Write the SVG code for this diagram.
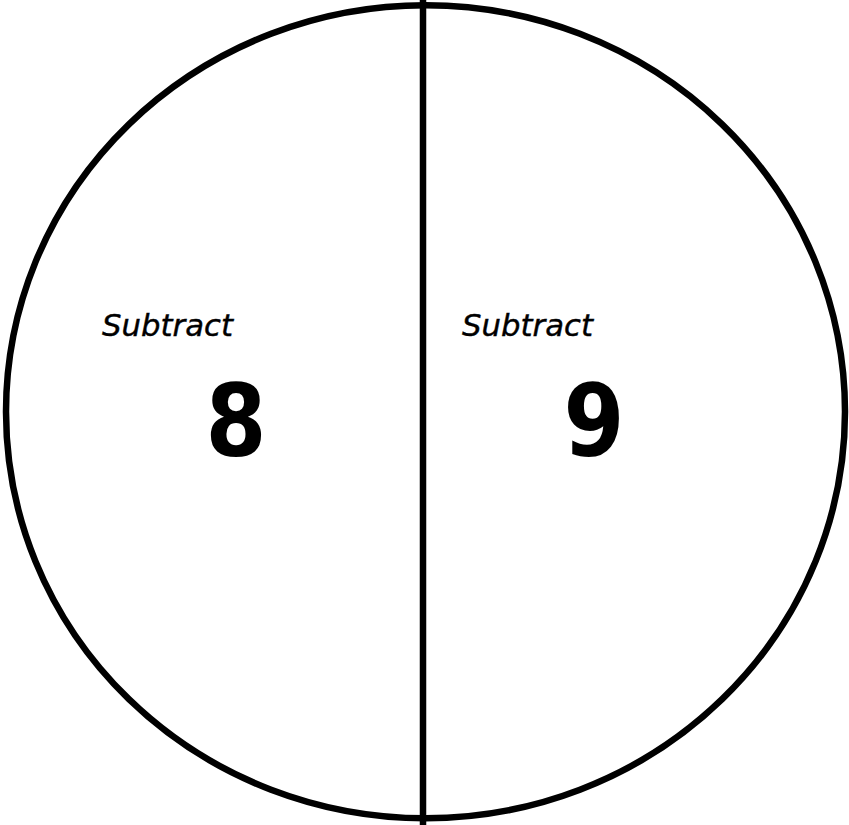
<svg xmlns="http://www.w3.org/2000/svg" width="849" height="825" viewBox="0 0 849 825">
  <style>
    .shape { fill: none; stroke: #000; stroke-width: 6.5; }
    .label { font-family: "DejaVu Sans", "Liberation Sans", sans-serif; font-style: italic; font-size: 30px; fill: #000; stroke: #000; stroke-width: 0.4; }
    .num { font-family: "DejaVu Sans", "Liberation Sans", sans-serif; font-weight: bold; font-size: 100px; fill: #000; text-anchor: middle; }
  </style>
  <rect width="849" height="825" fill="#fff"/>
  <g id="connectors">
    <ellipse class="shape" cx="425.5" cy="411.75" rx="419.5" ry="406.5"/>
    <line class="shape" x1="423" y1="0" x2="423" y2="825"/>
  </g>
  <g id="left-half">
    <text class="label" x="102" y="336" textLength="131" lengthAdjust="spacingAndGlyphs">Subtract</text>
    <text class="num" x="236" y="456" textLength="61" lengthAdjust="spacingAndGlyphs">8</text>
  </g>
  <g id="right-half">
    <text class="label" x="462" y="336" textLength="131" lengthAdjust="spacingAndGlyphs">Subtract</text>
    <text class="num" x="594" y="456" textLength="61" lengthAdjust="spacingAndGlyphs">9</text>
  </g>
</svg>
